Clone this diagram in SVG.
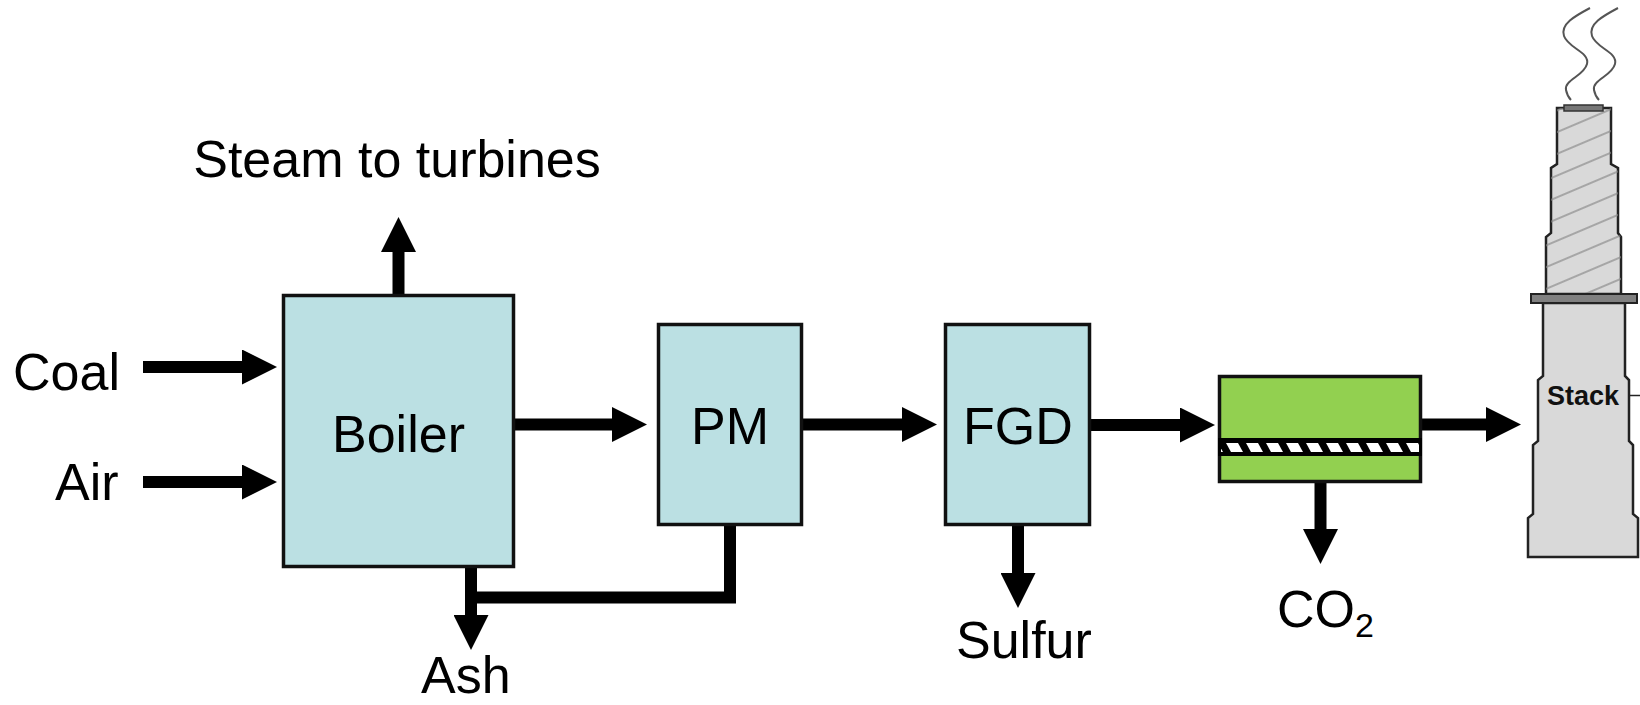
<svg xmlns="http://www.w3.org/2000/svg" width="1640" height="705" viewBox="0 0 1640 705">
  <style>
    .lbl { font-family: "Liberation Sans", Arial, sans-serif; font-size: 52px; fill: #000; }
    .box { fill: #bbe0e3; stroke: #111; stroke-width: 3.5; }
    .flow { stroke: #000; stroke-width: 12; fill: none; }
    .stackbody { fill: #d9d9d9; stroke: #222; stroke-width: 2.5; stroke-linejoin: miter; }
  </style>
  <defs>
    <marker id="head" viewBox="0 0 35 35" markerWidth="35" markerHeight="35" refX="2" refY="17.5" orient="auto" markerUnits="userSpaceOnUse">
      <path d="M0,0 L35,17.5 L0,35 Z" fill="#000"/>
    </marker>
    <pattern id="hatch" width="20" height="20" patternUnits="userSpaceOnUse" patternTransform="rotate(-23)">
      <line x1="0" y1="10" x2="20" y2="10" stroke="#8a8a8a" stroke-width="1.3"/>
    </pattern>
    <clipPath id="bandclip">
      <rect x="1221" y="443" width="198" height="9"/>
    </clipPath>
  </defs>

  <!-- flow connectors -->
  <g id="connectors">
    <line class="flow" x1="143" y1="367" x2="244" y2="367" marker-end="url(#head)"/>
    <line class="flow" x1="143" y1="482" x2="244" y2="482" marker-end="url(#head)"/>
    <line class="flow" x1="398.5" y1="294" x2="398.5" y2="250" marker-end="url(#head)"/>
    <line class="flow" x1="514" y1="424.5" x2="614" y2="424.5" marker-end="url(#head)"/>
    <line class="flow" x1="803" y1="424.5" x2="904" y2="424.5" marker-end="url(#head)"/>
    <line class="flow" x1="1091" y1="425" x2="1182" y2="425" marker-end="url(#head)"/>
    <line class="flow" x1="1422" y1="424.5" x2="1488" y2="424.5" marker-end="url(#head)"/>
    <line class="flow" x1="471" y1="567" x2="471" y2="617" marker-end="url(#head)"/>
    <polyline class="flow" stroke-width="11" points="730,526 730,597.5 465,597.5"/>
    <line class="flow" x1="1018" y1="526" x2="1018" y2="575" marker-end="url(#head)"/>
    <line class="flow" x1="1320.5" y1="483" x2="1320.5" y2="531" marker-end="url(#head)"/>
  </g>

  <!-- stream labels -->
  <g id="labels">
    <text class="lbl" x="397" y="177" text-anchor="middle">Steam to turbines</text>
    <text class="lbl" x="13" y="390">Coal</text>
    <text class="lbl" x="55" y="500">Air</text>
    <text class="lbl" x="421" y="693">Ash</text>
    <text class="lbl" x="956" y="658">Sulfur</text>
    <text class="lbl" x="1277" y="627">CO<tspan font-size="34" dy="10">2</tspan></text>
  </g>

  <g id="boiler">
    <rect class="box" x="283.5" y="295.5" width="230" height="271"/>
    <text class="lbl" x="398.5" y="452" text-anchor="middle">Boiler</text>
  </g>

  <g id="pm">
    <rect class="box" x="658.5" y="324.5" width="143" height="200"/>
    <text class="lbl" x="730" y="444" text-anchor="middle">PM</text>
  </g>

  <g id="fgd">
    <rect class="box" x="945.5" y="324.5" width="144" height="200"/>
    <text class="lbl" x="1018" y="444" text-anchor="middle">FGD</text>
  </g>

  <!-- membrane separator: green module with hatched membrane band -->
  <g id="membrane">
    <rect x="1219.5" y="376.5" width="201" height="105" fill="#92d050" stroke="#111" stroke-width="3.5"/>
    <rect x="1218" y="438" width="204" height="18" fill="#000"/>
    <g clip-path="url(#bandclip)" fill="#fff">
      <path d="M1206,443 h12 l5,9 h-12 Z"/>
      <path d="M1226,443 h12 l5,9 h-12 Z"/>
      <path d="M1246,443 h12 l5,9 h-12 Z"/>
      <path d="M1266,443 h12 l5,9 h-12 Z"/>
      <path d="M1286,443 h12 l5,9 h-12 Z"/>
      <path d="M1306,443 h12 l5,9 h-12 Z"/>
      <path d="M1326,443 h12 l5,9 h-12 Z"/>
      <path d="M1346,443 h12 l5,9 h-12 Z"/>
      <path d="M1366,443 h12 l5,9 h-12 Z"/>
      <path d="M1386,443 h12 l5,9 h-12 Z"/>
      <path d="M1406,443 h12 l5,9 h-12 Z"/>
    </g>
  </g>

  <!-- chimney stack with smoke -->
  <g id="stack">
    <g fill="none" stroke="#555" stroke-width="2">
      <path d="M1590,8 C1575,16 1560,24 1564,36 C1568,48 1590,52 1587,64 C1584,76 1564,80 1566,90 C1567,95 1569,98 1571,100"/>
      <path d="M1618,8 C1603,16 1588,24 1592,36 C1596,48 1618,52 1615,64 C1612,76 1592,80 1594,90 C1595,95 1597,98 1599,100"/>
    </g>
    <path class="stackbody" d="M1557,108 L1611,108 L1611,164 L1618,168 L1618,233 L1621,237 L1621,294 L1546,294 L1546,237 L1551,233 L1551,168 L1557,164 Z"/>
    <path d="M1557,108 L1611,108 L1611,164 L1618,168 L1618,233 L1621,237 L1621,294 L1546,294 L1546,237 L1551,233 L1551,168 L1557,164 Z" fill="url(#hatch)" stroke="none"/>
    <rect x="1564" y="105" width="39" height="6" fill="#777" stroke="#333" stroke-width="1.5"/>
    <path class="stackbody" d="M1543,303 L1625,303 L1625,376 L1629,380 L1629,441 L1633,445 L1633,514 L1638,518 L1638,557 L1528,557 L1528,518 L1533,514 L1533,445 L1538,441 L1538,380 L1543,376 Z"/>
    <rect x="1531" y="294" width="106" height="9" fill="#808080" stroke="#222" stroke-width="2"/>
    <line x1="1629" y1="395.5" x2="1640" y2="395.5" stroke="#222" stroke-width="1.5"/>
    <text x="1547" y="405" font-family="Liberation Sans, Arial, sans-serif" font-size="27" font-weight="bold" fill="#111">Stack</text>
  </g>
</svg>
